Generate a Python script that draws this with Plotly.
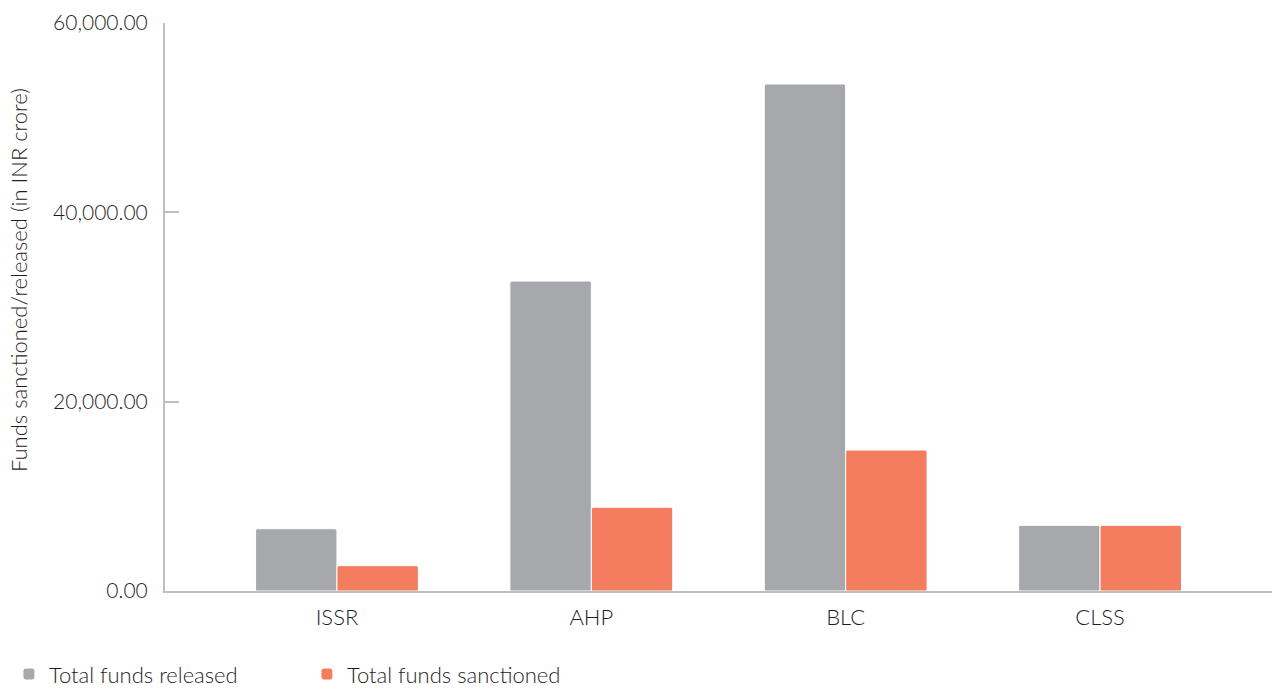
import plotly.graph_objects as go

categories = ["ISSR", "AHP", "BLC", "CLSS"]
funds_released = [6580, 32740, 53560, 6940]
funds_sanctioned = [2680, 8850, 14890, 6940]
y_ticks = [0, 20000, 40000, 60000]
y_title = "Funds sanctioned/released (in INR crore)"

GREY = "#a7a8ab"
ORANGE = "#f37d5e"
AXIS = "#bfbfbf"
TEXT = "#1f1f1f"
FONT = "Lato"

fig = go.Figure()
fig.add_trace(go.Bar(
    name="Total funds released", x=categories, y=funds_released,
    marker=dict(color=GREY, line=dict(color="white", width=1)),
))
fig.add_trace(go.Bar(
    name="Total funds sanctioned", x=categories, y=funds_sanctioned,
    marker=dict(color=ORANGE, line=dict(color="white", width=1)),
))

fig.update_layout(
    width=1275, height=688,
    margin=dict(l=165, r=3, t=23, b=97),
    paper_bgcolor="white", plot_bgcolor="white",
    barmode="group", bargap=0.36, bargroupgap=0,
    barcornerradius=2,
    font=dict(family=FONT, color=TEXT, size=20, weight=300),
    showlegend=True,
    legend=dict(
        orientation="h", xref="container", yref="container",
        x=0.007, y=0.02, xanchor="left", yanchor="middle",
        font=dict(size=22, family=FONT, weight=300, color=TEXT),
        entrywidth=253, entrywidthmode="pixels",
        itemwidth=30, traceorder="normal",
    ),
)
fig.add_annotation(
    text=y_title, textangle=-90, showarrow=False,
    xref="paper", yref="paper", x=-0.1328, y=0.5475,
    xanchor="center", yanchor="middle",
    font=dict(size=22, family=FONT, weight=300, color=TEXT),
)
fig.update_xaxes(
    range=[-0.676, 3.676],
    showline=True, linecolor=AXIS, linewidth=2,
    showgrid=False, zeroline=False, ticks="",
    ticklabelstandoff=6,
    tickfont=dict(size=22, family=FONT, weight=300, color=TEXT),
)
fig.update_yaxes(
    range=[0, 60000], tickvals=y_ticks, tickformat=",.2f",
    showline=True, linecolor=AXIS, linewidth=2,
    showgrid=False, zeroline=False,
    ticks="inside", ticklen=14, tickcolor=AXIS, tickwidth=2,
    ticklabelstandoff=11,
    tickfont=dict(size=21, family=FONT, weight=300, color=TEXT),
)

fig.write_html("out.html")
